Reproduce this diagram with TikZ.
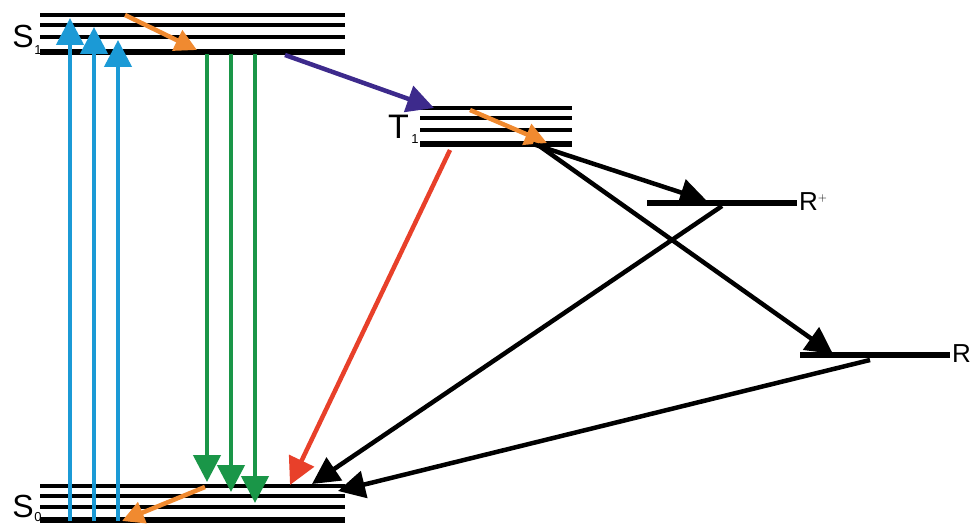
\documentclass[tikz,border=0pt]{standalone}
\usepackage{fontspec}
\setmainfont{Liberation Sans}
\usetikzlibrary{arrows.meta}
\definecolor{absblue}{RGB}{27,154,214}
\definecolor{fluogreen}{RGB}{26,150,72}
\definecolor{relaxorange}{RGB}{240,138,48}
\definecolor{iscpurple}{RGB}{61,42,140}
\definecolor{phosred}{RGB}{232,64,42}
\tikzset{
  level/.style={line width=3.6pt},
  groundlevel/.style={line width=5.5pt},
  trans/.style={line width=4.5pt,-{Triangle[length=27pt,width=27pt]}},
  relax/.style={line width=4.5pt,-{Triangle[length=22pt,width=22pt]},relaxorange},
  statelabel/.style={font=\fontsize{32}{32}\selectfont,inner sep=0pt,anchor=east},
  sublabel/.style={font=\fontsize{13}{13}\selectfont,inner sep=0pt},
}
\begin{document}
\begin{tikzpicture}[x=1pt,y=-1pt]
\useasboundingbox (0,0) rectangle (972,524);
% S1 manifold
\foreach \yy in {15,25,37}{\draw[level] (40,\yy) -- (345,\yy);}
\draw[groundlevel] (40,52) -- (345,52);
% S0 manifold
\foreach \yy in {486,496,507}{\draw[level] (40,\yy) -- (345,\yy);}
\draw[groundlevel] (40,520) -- (345,520);
% T1 manifold
\foreach \yy in {108,118,130}{\draw[level] (420,\yy) -- (572,\yy);}
\draw[groundlevel] (420,144) -- (572,144);
% product states
\draw[groundlevel] (647,203) -- (797,203);
\draw[groundlevel] (800,355) -- (950,355);
% labels
\node[statelabel] (s1) at (34,36) {S};
\node[sublabel] (s1i) at (38,50) {1};
\node[statelabel] (s0) at (34,506) {S};
\node[sublabel] (s0i) at (38,517) {0};
\node[statelabel,font=\fontsize{34}{34}\selectfont] (t1) at (409,127) {T};
\node[sublabel] (t1i) at (415,139) {1};
\node[font=\fontsize{26}{26}\selectfont,inner sep=0pt,anchor=west] (rp) at (799,202) {R$^{\scriptscriptstyle +}$};
\node[font=\fontsize{26}{26}\selectfont,inner sep=0pt,anchor=west] (rr) at (952,354) {R};
% endpoints
\coordinate (a1s) at (70,521); \coordinate (a1e) at (70,18);
\coordinate (a2s) at (94,521); \coordinate (a2e) at (94,27);
\coordinate (a3s) at (118,521); \coordinate (a3e) at (118,40);
\coordinate (f1s) at (207,54); \coordinate (f1e) at (207,482);
\coordinate (f2s) at (231,54); \coordinate (f2e) at (231,492);
\coordinate (f3s) at (255,54); \coordinate (f3e) at (255,503);
\coordinate (o1s) at (125,15); \coordinate (o1e) at (197,50);
\coordinate (o2s) at (205,487); \coordinate (o2e) at (122,521);
\coordinate (o3s) at (470,110); \coordinate (o3e) at (547,143);
\coordinate (iscs) at (285,55); \coordinate (isce) at (434,108);
\coordinate (phs) at (450,150); \coordinate (phe) at (290,485);
\coordinate (trp) at (533,144); \coordinate (rpe) at (707,201);
\coordinate (trr) at (538,145); \coordinate (rre) at (833,354);
\coordinate (rps) at (722,206); \coordinate (rpg) at (312,484);
\coordinate (rrs) at (870,360); \coordinate (rrg) at (338,491);
% absorption
\draw[trans,absblue] (a1s) -- (a1e);
\draw[trans,absblue] (a2s) -- (a2e);
\draw[trans,absblue] (a3s) -- (a3e);
% fluorescence
\draw[trans,fluogreen] (f1s) -- (f1e);
\draw[trans,fluogreen] (f2s) -- (f2e);
\draw[trans,fluogreen] (f3s) -- (f3e);
% vibrational relaxation
\draw[relax] (o1s) -- (o1e);
\draw[relax] (o2s) -- (o2e);
\draw[relax] (o3s) -- (o3e);
% intersystem crossing and phosphorescence
\draw[trans,iscpurple] (iscs) -- (isce);
\draw[trans,phosred] (phs) -- (phe);
% charge-separated and radical pathways
\draw[trans,black] (trp) -- (rpe);
\draw[trans,black] (trr) -- (rre);
\draw[trans,black] (rps) -- (rpg);
\draw[trans,black] (rrs) -- (rrg);
\end{tikzpicture}
\end{document}
